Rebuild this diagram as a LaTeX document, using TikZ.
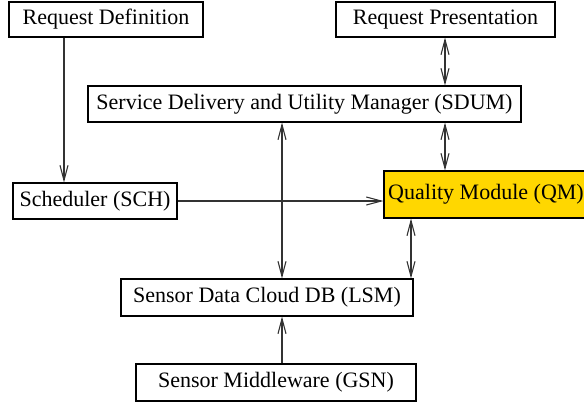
\documentclass[tikz,border=0pt]{standalone}
\usepackage{fontspec}
\setmainfont{Liberation Serif}
\usetikzlibrary{arrows.meta}
\definecolor{qmgold}{RGB}{255,215,0}
\begin{document}
\begin{tikzpicture}[x=1pt,y=-1pt,
  box/.style={draw=black,line width=1.1pt,rectangle,inner sep=0pt,font=\fontsize{22}{26}\selectfont},
  conn/.style={line width=1.1pt,draw=black!80,-{Straight Barb[length=15pt,width=8pt]}},
  dconn/.style={line width=1.1pt,draw=black!80,{Straight Barb[length=15pt,width=8pt]}-{Straight Barb[length=15pt,width=8pt]}}]
\useasboundingbox (0,0) rectangle (584,405);
\node[box,minimum width=194pt,minimum height=35pt] (rd) at (106,19.5) {Request Definition};
\node[box,minimum width=219pt,minimum height=35pt] (rp) at (445.5,19.5) {Request Presentation};
\node[box,minimum width=433pt,minimum height=36pt] (sdum) at (304.5,104) {Service Delivery and Utility Manager (SDUM)};
\node[box,minimum width=164pt,minimum height=36pt] (sch) at (95,201) {Scheduler (SCH)};
\node[box,fill=qmgold,minimum width=204pt,minimum height=47pt] (qm) at (486,194.5) {Quality Module (QM)};
\node[box,minimum width=292pt,minimum height=37pt] (lsm) at (267,297.5) {Sensor Data Cloud DB (LSM)};
\node[box,minimum width=280pt,minimum height=37pt] (gsn) at (276,382.5) {Sensor Middleware (GSN)};
% connectors
\draw[conn] (rd.south -| 64,0) -- (sch.north -| 64,0);
\draw[dconn] (rp.south -| 445,0) -- (sdum.north -| 445,0);
\draw[dconn] (sdum.south -| 445,0) -- (qm.north -| 445,0);
\draw[dconn] (sdum.south -| 282,0) -- (lsm.north -| 282,0);
\draw[conn] (sch.east) -- (qm.west |- sch.east);
\draw[dconn] (qm.south -| 411,0) -- (lsm.north -| 411,0);
\draw[conn] (gsn.north -| 282,0) -- (lsm.south -| 282,0);
\end{tikzpicture}
\end{document}
